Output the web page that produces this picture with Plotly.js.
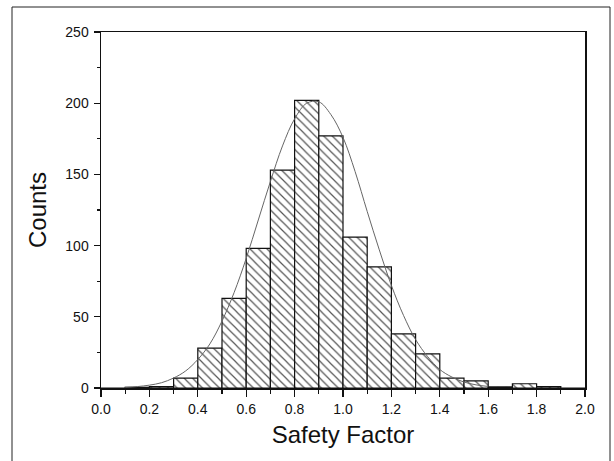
<!DOCTYPE html>
<html>
<head>
<meta charset="utf-8">
<script src="https://cdn.plot.ly/plotly-3.0.1.min.js"></script>
<style>html,body{margin:0;padding:0;background:#fff;}#chart{width:614px;height:461px;}</style>
</head>
<body>
<div id="chart"></div>
<script>
// Histogram bins (centers) and counts
var binCenters = [0.05,0.15,0.25,0.35,0.45,0.55,0.65,0.75,0.85,0.95,1.05,1.15,1.25,1.35,1.45,1.55,1.65,1.75,1.85,1.95];
var counts     = [0,   0.5, 1,   7,   28,  63,  98,  153, 202, 177, 106, 85,  38,  24,  7,   5,   0.8, 3,   1,   0];

// Fitted curve
var curveX = [0.10,0.15,0.20,0.25,0.30,0.35,0.40,0.45,0.50,0.55,0.60,0.65,0.70,0.75,0.80,0.85,0.90,0.95,1.00,1.05,1.10,1.15,1.20,1.25,1.30,1.35,1.40,1.45,1.50,1.55,1.60];
var curveY = [0.4, 1,   2,   3.7, 7,   12,  20,  31,  47,  67,  91,  118, 145, 170, 189, 200, 201, 192, 176, 152, 124, 97,  72,  51,  34,  22,  13,  7.7, 4.2, 2.2, 1.1];

var xTicks = [0.0,0.2,0.4,0.6,0.8,1.0,1.2,1.4,1.6,1.8,2.0];
var yTicks = [0,50,100,150,200,250];

var traces = [
  {
    type: 'bar', x: binCenters, y: counts, width: 0.1,
    marker: {
      color: '#ffffff',
      line: {color: '#111111', width: 1.2},
      pattern: {shape: '\\', fgcolor: '#555555', bgcolor: '#ffffff', size: 6, solidity: 0.2}
    },
    hoverinfo: 'skip', showlegend: false
  },
  {
    type: 'scatter', mode: 'lines', x: curveX, y: curveY,
    line: {color: '#666666', width: 1, shape: 'spline'},
    hoverinfo: 'skip', showlegend: false
  }
];

var L = 101, R = 585, T = 32, B = 388;
var W = R - L, H = B - T;

var layout = {
  width: 614, height: 461,
  margin: {l: L, r: 614 - R, t: T, b: 461 - B},
  paper_bgcolor: '#ffffff', plot_bgcolor: '#ffffff',
  font: {family: 'Liberation Sans, Arial, sans-serif', color: '#111111', size: 14},
  bargap: 0,
  xaxis: {
    range: [0, 2], tickvals: xTicks, ticktext: xTicks.map(function(v){return v.toFixed(1);}),
    ticks: 'outside', ticklen: 7, tickwidth: 1.3, tickcolor: '#111',
    minor: {dtick: 0.1, ticks: 'outside', ticklen: 4, tickcolor: '#111', showgrid: false},
    showgrid: false, zeroline: false,
    showline: true, linecolor: '#111', linewidth: 1.5, mirror: true,
    tickfont: {size: 14}, ticklabelstandoff: 1,
    title: {text: 'Safety Factor', font: {size: 24}, standoff: 10}
  },
  yaxis: {
    range: [0, 250], tickvals: yTicks,
    ticks: 'outside', ticklen: 6, tickwidth: 1.3, tickcolor: '#111',
    minor: {dtick: 25, ticks: 'outside', ticklen: 3, tickcolor: '#111', showgrid: false},
    showgrid: false, zeroline: false,
    showline: true, linecolor: '#111', linewidth: 1.5, mirror: true,
    tickfont: {size: 14}, ticklabelstandoff: 2,
    title: {text: 'Counts', font: {size: 24}, standoff: 12}
  },
  shapes: [
    {type: 'rect', xref: 'paper', yref: 'paper',
     x0: (12 - L) / W, x1: (610 - L) / W, y0: (B - 470) / H, y1: (B - 7) / H,
     line: {color: '#222', width: 1}, layer: 'below'}
  ]
};

Plotly.newPlot('chart', traces, layout, {staticPlot: true, displayModeBar: false});
</script>
</body>
</html>
